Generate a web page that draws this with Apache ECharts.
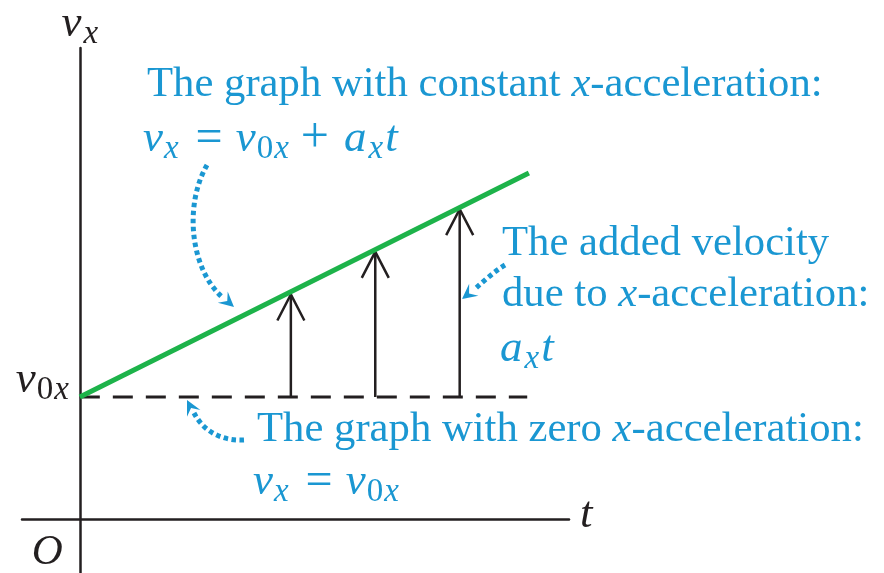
<!DOCTYPE html>
<html><head><meta charset="utf-8">
<script src="https://cdn.jsdelivr.net/npm/echarts@6/dist/echarts.min.js"></script>
<style>html,body{margin:0;padding:0;background:#fff}#c{width:884px;height:573px}</style>
</head><body><div id="c"></div>
<script>
// ---- data ----
const tRange = [-1.37, 11.59];
const vRange = [-2.21, 19.3];
const v0x = 5;
const constAccT = [0, 10.64];
const constAccV = [5, 14.18];
const zeroAccT = [0, 10.6];
const zeroAccV = [5, 5];
const arrowT = [5, 7, 9];
const arrowTopV = [9.2, 10.95, 12.7];
const originLabel = 'O';
const v0Label = '{i|v}{z|0}{s|x}';

// ---- styles ----
const BLUE = '#1a97d2';
const INK = '#231f20';
const GREEN = '#1db34a';
const SERIF = "'Liberation Serif', 'Times New Roman', serif";
const FS = 42.7;

function gRich(fill, subLH) {
  return {
    n:  {fill, fontFamily: SERIF, fontSize: FS, lineHeight: 54, verticalAlign: 'middle'},
    ix: {fill, fontFamily: SERIF, fontSize: FS, fontStyle: 'italic', lineHeight: 54, verticalAlign: 'middle'},
    i:  {fill, fontFamily: SERIF, fontSize: 45, fontStyle: 'italic', lineHeight: 54, verticalAlign: 'middle'},
    ia: {fill, fontFamily: SERIF, fontSize: 45, fontStyle: 'italic', lineHeight: 54, verticalAlign: 'middle', padding: [0, 1, 0, 0]},
    eq: {fill, fontFamily: SERIF, fontSize: 48, lineHeight: 54, verticalAlign: 'middle', padding: [0, 13, 0, 15]},
    pl: {fill, fontFamily: SERIF, fontSize: 50, lineHeight: 54, verticalAlign: 'middle', padding: [0, 15, 0, 10]},
    s:  {fill, fontFamily: SERIF, fontSize: 33, fontStyle: 'italic', lineHeight: subLH, verticalAlign: 'bottom', padding: [0, 2, 0, 1]},
    z:  {fill, fontFamily: SERIF, fontSize: 33, lineHeight: subLH, verticalAlign: 'bottom', padding: [0, 0, 0, 1]}
  };
}
function cRich(color, subLH) {
  return {
    i: {color, fontFamily: SERIF, fontSize: 45, fontStyle: 'italic', lineHeight: 54, verticalAlign: 'middle'},
    s: {color, fontFamily: SERIF, fontSize: 33, fontStyle: 'italic', lineHeight: subLH, verticalAlign: 'bottom', padding: [0, 0, 0, 2]}
  };
}
function txt(text, x, baseline, fill, align, subLH) {
  fill = fill || BLUE; align = align || 'left';
  return {
    type: 'text', z: 100,
    style: {
      text, x, y: baseline - 13, fill, fontFamily: SERIF, fontSize: FS,
      align, verticalAlign: 'middle', textAlign: align, textVerticalAlign: 'middle',
      rich: gRich(fill, subLH || 26)
    }
  };
}
function head(tip, dir, L, W) {
  const len = Math.hypot(dir[0], dir[1]);
  const d = [dir[0] / len, dir[1] / len];
  const n = [-d[1], d[0]];
  return {
    type: 'polygon', z: 100,
    shape: {points: [
      tip,
      [tip[0] - L * d[0] + W * n[0], tip[1] - L * d[1] + W * n[1]],
      [tip[0] - 0.6 * L * d[0], tip[1] - 0.6 * L * d[1]],
      [tip[0] - L * d[0] - W * n[0], tip[1] - L * d[1] - W * n[1]]
    ]},
    style: {fill: BLUE, stroke: null}
  };
}
const dotStyle = {stroke: BLUE, lineWidth: 5, lineDash: [4.5, 3.5], fill: null, lineCap: 'butt'};
function curve(p0, c1, c2, p3) {
  return {type: 'bezierCurve', z: 100,
    shape: {x1: p0[0], y1: p0[1], cpx1: c1[0], cpy1: c1[1], cpx2: c2[0], cpy2: c2[1], x2: p3[0], y2: p3[1]},
    style: dotStyle};
}

const chart = echarts.init(document.getElementById('c'), null, {renderer: 'canvas'});
chart.setOption({
  animation: false,
  backgroundColor: '#fff',
  grid: {left: 22, right: 315, top: 48, bottom: 0, containLabel: false, outerBoundsMode: 'none'},
  xAxis: {
    type: 'value', min: tRange[0], max: tRange[1],
    axisLine: {show: true, onZero: true, lineStyle: {color: INK, width: 2.5}},
    axisTick: {show: false}, splitLine: {show: false}, axisLabel: {show: false},
    name: '{i|t}', nameLocation: 'end', nameGap: 11,
    nameTextStyle: {rich: cRich(INK, 26), padding: [0, 0, 8, 0], align: 'left', verticalAlign: 'middle'}
  },
  yAxis: {
    type: 'value', min: vRange[0], max: vRange[1],
    axisLine: {show: true, onZero: true, lineStyle: {color: INK, width: 2.5}},
    axisTick: {show: false}, splitLine: {show: false}, axisLabel: {show: false},
    name: '{i|v}{s|x}', nameLocation: 'end', nameGap: -3,
    nameTextStyle: {rich: cRich(INK, 26), align: 'center', verticalAlign: 'bottom'}
  },
  series: [
    {
      type: 'custom', name: 'added velocity', z: 3,
      encode: {x: 0, y: [1, 2]},
      data: arrowT.map((t, i) => [t, v0x, arrowTopV[i]]),
      renderItem: function (params, api) {
        const t = api.value(0), b = api.value(1), top = api.value(2);
        const p0 = api.coord([t, b]), p1 = api.coord([t, top]);
        return {type: 'group', children: [
          {type: 'line', shape: {x1: p0[0], y1: p0[1], x2: p1[0], y2: p1[1]}, style: {stroke: INK, lineWidth: 2.5}},
          {type: 'polyline', shape: {points: [[p1[0] - 13.5, p1[1] + 26], [p1[0], p1[1]], [p1[0] + 13.5, p1[1] + 26]]},
           style: {stroke: INK, lineWidth: 2.5, fill: null}}
        ]};
      }
    },
    {
      type: 'line', name: 'zero acceleration', z: 4, symbol: 'none',
      data: zeroAccT.map((t, i) => [t, zeroAccV[i]]),
      lineStyle: {color: INK, width: 3, type: [20, 13]}
    },
    {
      type: 'line', name: 'constant acceleration', z: 5, symbol: 'none',
      data: constAccT.map((t, i) => [t, constAccV[i]]),
      lineStyle: {color: GREEN, width: 5, cap: 'butt'}
    }
  ]
});

// axis-anchored labels (from the axes' own scale)
const pV0 = chart.convertToPixel({gridIndex: 0}, [0, v0x]);
const pO = chart.convertToPixel({gridIndex: 0}, [0, 0]);
const oLabel = {
  type: 'text', z: 100,
  style: {text: originLabel, x: pO[0] - 17, y: pO[1] + 47 - 13, fill: INK, fontFamily: SERIF, fontSize: 43,
    fontStyle: 'italic', align: 'right', verticalAlign: 'middle', textAlign: 'right', textVerticalAlign: 'middle'}
};

chart.setOption({
  graphic: [
    txt(v0Label, pV0[0] - 9, pV0[1] - 4, INK, 'right', 7),
    oLabel,
    txt('{n|The graph with constant }{ix|x}{n|-acceleration:}', 147, 98),
    txt('{i|v}{s|x}{eq|=}{i|v}{z|0}{s|x}{pl|+}{ia|a}{s|x}{i|t}', 143, 152),
    txt('{n|The added velocity}', 502, 257),
    txt('{n|due to }{ix|x}{n|-acceleration:}', 502, 308),
    txt('{ia|a}{s|x}{i|t}', 500, 362),
    txt('{n|The graph with zero }{ix|x}{n|-acceleration:}', 257, 443),
    txt('{i|v}{s|x}{eq|=}{i|v}{z|0}{s|x}', 253, 495),
    curve([207, 165], [184, 205], [190, 268], [222, 297]),
    head([234, 307], [34, 30], 15, 7.5),
    curve([505, 265], [495, 271], [485, 280], [476, 288]),
    head([462, 299], [-14, 11], 15, 7.5),
    curve([244, 440], [222, 441], [204, 432], [194, 413]),
    head([187, 400], [-8, -16], 15, 7.5)
  ]
});
</script>
</body></html>
